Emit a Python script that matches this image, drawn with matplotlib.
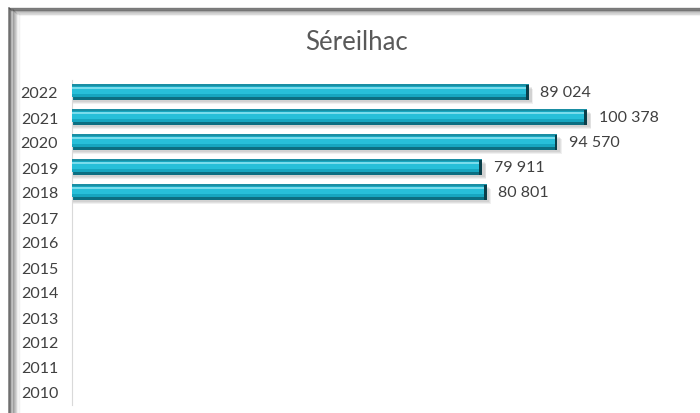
import matplotlib
matplotlib.use("Agg")
import matplotlib.pyplot as plt
from matplotlib.lines import Line2D

title = "Séreilhac"
years = ["2022", "2021", "2020", "2019", "2018", "2017", "2016",
         "2015", "2014", "2013", "2012", "2011", "2010"]
values = [89024, 100378, 94570, 79911, 80801, None, None,
          None, None, None, None, None, None]

plt.rcParams['font.family'] = ['Lato', 'DejaVu Sans']

fig = plt.figure(figsize=(7.0, 4.14), dpi=100)
fig.patch.set_facecolor("white")

# frame with soft shadow (top and left visible)
W, H = 700.0, 414.0
for i in range(10):
    a = 0.7 * (1 - i / 10.0) ** 1.5
    yy = 1 - (9 + i * 0.8) / H
    xx = (9 + i * 1.2) / W
    fig.add_artist(Line2D([xx, 1.0], [yy, yy], transform=fig.transFigure,
                          color="#4a4a4a", alpha=a, lw=1.0))
    fig.add_artist(Line2D([xx, xx], [0, yy], transform=fig.transFigure,
                          color="#4a4a4a", alpha=a, lw=1.2))

ax = fig.add_axes([72 / W, 1 - 405.5 / H, (687.6 - 72) / W, (405.5 - 80.5) / H])
ax.set_facecolor("none")

idx = [i for i, v in enumerate(values) if v is not None]
vals = [values[i] for i in idx]
xmax = 120000
cap = xmax * 0.004

# shadow
for k, (dy, a) in enumerate([(0.17, 0.10), (0.13, 0.12), (0.09, 0.12)]):
    ax.barh([i + dy for i in idx], [v + cap * (1.8 - 0.3 * k) for v in vals],
            height=0.62, color="#707070", alpha=a, lw=0, zorder=1)
# base dark
ax.barh(idx, vals, height=0.6, color="#0c6f82", lw=0, zorder=2)
# mid
ax.barh([i - 0.03 for i in idx], vals, height=0.46, color="#17a6c0", lw=0, zorder=3)
# bright
ax.barh([i - 0.07 for i in idx], vals, height=0.28, color="#27bfd9", lw=0, zorder=4)
# highlight
ax.barh([i - 0.17 for i in idx], vals, height=0.08, color="#7adcec", lw=0, zorder=5)
# top edge
ax.barh([i - 0.28 for i in idx], vals, height=0.05, color="#1a8ea3", lw=0, zorder=5)
# end cap
ax.barh(idx, [cap] * len(vals), left=[v - cap for v in vals], height=0.6,
        color="#0a3f4a", lw=0, zorder=6)

for i, v in zip(idx, vals):
    ax.annotate(f"{v:,}".replace(",", " "), (v, i), xytext=(8.5, 0),
                textcoords="offset points", va="center", ha="left",
                fontsize=11.5, color="#404040")

ax.set_xlim(0, xmax)
ax.set_ylim(len(years) - 0.5, -0.5)
ax.set_yticks(range(len(years)))
ax.set_yticklabels(years, fontsize=11.5, color="#404040")
ax.set_xticks([])
ax.tick_params(axis="y", length=0, pad=10)
for s in ["top", "right", "bottom"]:
    ax.spines[s].set_visible(False)
ax.spines["left"].set_color("#d9d9d9")
ax.spines["left"].set_linewidth(0.8)

fig.text(357 / W, 1 - 42 / H, title, ha="center", va="center",
         fontsize=18.5, color="#595959")

fig.savefig("out.png", dpi=100)
